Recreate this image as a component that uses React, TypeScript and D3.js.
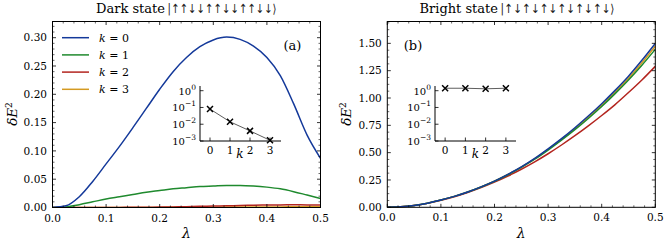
import React from "react";
import * as d3 from "d3";

// ---- data ----
const lambdaGrid = [0, 0.025, 0.05, 0.075, 0.1, 0.125, 0.15, 0.175, 0.2, 0.225, 0.25, 0.275, 0.3, 0.325, 0.35, 0.375, 0.4, 0.425, 0.45, 0.475, 0.5];
const seriesNames = ["k = 0", "k = 1", "k = 2", "k = 3"];
const seriesColors = ["#14399a", "#1f8a2e", "#b3251f", "#d49a22"];

const darkK0 = [0, 0.003, 0.019, 0.046, 0.077, 0.108, 0.141, 0.175, 0.209, 0.24, 0.265, 0.284, 0.296, 0.301, 0.297, 0.285, 0.265, 0.233, 0.183, 0.128, 0.087];
const darkK1 = [0, 0.001, 0.005, 0.01, 0.015, 0.019, 0.023, 0.027, 0.03, 0.033, 0.035, 0.037, 0.038, 0.039, 0.039, 0.038, 0.036, 0.033, 0.028, 0.022, 0.016];
const darkK2 = [0, 0, 0, 0, 0.0001, 0.0002, 0.0003, 0.0005, 0.0008, 0.0011, 0.0015, 0.002, 0.0025, 0.003, 0.0035, 0.004, 0.0044, 0.0046, 0.0047, 0.0046, 0.0043];
const darkK3 = [0, 0, 0, 0, 0, 0.0001, 0.0001, 0.0002, 0.0002, 0.0003, 0.0004, 0.0005, 0.0006, 0.0007, 0.0008, 0.0009, 0.001, 0.0011, 0.0012, 0.0012, 0.0012];

const brightK0 = [0, 0.004, 0.016, 0.037, 0.066, 0.1, 0.14, 0.187, 0.24, 0.302, 0.37, 0.447, 0.535, 0.628, 0.728, 0.835, 0.948, 1.07, 1.2, 1.345, 1.5];
const brightK1 = [0, 0.004, 0.016, 0.037, 0.066, 0.1, 0.14, 0.186, 0.238, 0.298, 0.365, 0.44, 0.524, 0.614, 0.71, 0.813, 0.922, 1.04, 1.165, 1.3, 1.445];
const brightK2 = [0, 0.004, 0.016, 0.036, 0.064, 0.097, 0.136, 0.18, 0.23, 0.286, 0.348, 0.416, 0.49, 0.57, 0.655, 0.745, 0.84, 0.94, 1.05, 1.165, 1.29];
const brightK3 = [0, 0.004, 0.016, 0.037, 0.066, 0.1, 0.14, 0.187, 0.239, 0.3, 0.368, 0.444, 0.53, 0.621, 0.72, 0.824, 0.935, 1.053, 1.18, 1.322, 1.475];

const insetK = [0, 1, 2, 3];
const insetDark = [0.08, 0.014, 0.004, 0.0011];
const insetBright = [1.4, 1.4, 1.3, 1.4];

const xTicks = [0, 0.1, 0.2, 0.3, 0.4, 0.5];
const yTicksA = [0, 0.05, 0.1, 0.15, 0.2, 0.25, 0.3];
const yTicksB = [0, 0.25, 0.5, 0.75, 1.0, 1.25, 1.5];
const insetYTicks = [1e-3, 1e-2, 1e-1, 1];
const insetYLabels = ["−3", "−2", "−1", "0"];

const FONT = "'DejaVu Serif', 'Liberation Serif', serif";
const ARROWFONT = "'DejaVu Sans', sans-serif";

type Scale = d3.ScaleLinear<number, number>;

function Frame({ x, y, xt, yt, xminor, yminor, yfmt }: { x: Scale; y: Scale; xt: number[]; yt: number[]; xminor: number[]; yminor: number[]; yfmt: (v: number) => string }) {
  const [x0, x1] = x.range();
  const [y0, y1] = y.range();
  const maj = 3.5, mn = 2;
  const els: React.ReactNode[] = [];
  xt.forEach((v, i) => {
    const px = x(v);
    els.push(<line key={"xt" + i} x1={px} x2={px} y1={y0} y2={y0 - maj} stroke="#000" strokeWidth={0.8} />);
    els.push(<line key={"xtt" + i} x1={px} x2={px} y1={y1} y2={y1 + maj} stroke="#000" strokeWidth={0.8} />);
    els.push(<text key={"xl" + i} x={px} y={y0 + 14} textAnchor="middle" fontSize={10.5} fontFamily={FONT}>{v.toFixed(1)}</text>);
  });
  xminor.forEach((v, i) => {
    const px = x(v);
    els.push(<line key={"xm" + i} x1={px} x2={px} y1={y0} y2={y0 - mn} stroke="#000" strokeWidth={0.6} />);
    els.push(<line key={"xmt" + i} x1={px} x2={px} y1={y1} y2={y1 + mn} stroke="#000" strokeWidth={0.6} />);
  });
  yt.forEach((v, i) => {
    const py = y(v);
    els.push(<line key={"yt" + i} x1={x0} x2={x0 + maj} y1={py} y2={py} stroke="#000" strokeWidth={0.8} />);
    els.push(<line key={"ytr" + i} x1={x1} x2={x1 - maj} y1={py} y2={py} stroke="#000" strokeWidth={0.8} />);
    els.push(<text key={"yl" + i} x={x0 - 5.5} y={py + 3.8} textAnchor="end" fontSize={10.5} fontFamily={FONT}>{yfmt(v)}</text>);
  });
  yminor.forEach((v, i) => {
    const py = y(v);
    els.push(<line key={"ym" + i} x1={x0} x2={x0 + mn} y1={py} y2={py} stroke="#000" strokeWidth={0.6} />);
    els.push(<line key={"ymr" + i} x1={x1} x2={x1 - mn} y1={py} y2={py} stroke="#000" strokeWidth={0.6} />);
  });
  return <g>{els}<rect x={x0} y={y1} width={x1 - x0} height={y0 - y1} fill="none" stroke="#000" strokeWidth={1} /></g>;
}

function Inset({ x, y, vals }: { x: Scale; y: d3.ScaleLogarithmic<number, number>; vals: number[] }) {
  const [x0, x1] = x.range();
  const [y0, y1] = y.range();
  const line = d3.line<number>().x((_, i) => x(insetK[i])).y((v) => y(v));
  return (
    <g>
      <path d={line(vals) || ""} fill="none" stroke="#333" strokeWidth={0.8} />
      {vals.map((v, i) => {
        const cx = x(insetK[i]), cy = y(v), s = 3;
        return <path key={i} d={`M${cx - s},${cy - s}L${cx + s},${cy + s}M${cx - s},${cy + s}L${cx + s},${cy - s}`} stroke="#000" strokeWidth={1.5} />;
      })}
      <line x1={x0} x2={x0} y1={y0} y2={y1} stroke="#000" strokeWidth={1} />
      <line x1={x0} x2={x1} y1={y0} y2={y0} stroke="#000" strokeWidth={1} />
      {insetK.map((k, i) => (
        <g key={"ik" + i}>
          <line x1={x(k)} x2={x(k)} y1={y0} y2={y0 - 3.5} stroke="#000" strokeWidth={0.8} />
          <text x={x(k)} y={y0 + 13} textAnchor="middle" fontSize={10.5} fontFamily={FONT}>{k}</text>
        </g>
      ))}
      {insetYTicks.map((t, i) => (
        <g key={"iy" + i}>
          <line x1={x0} x2={x0 + 3.5} y1={y(t)} y2={y(t)} stroke="#000" strokeWidth={0.8} />
          <text x={x0 - 4} y={y(t) + 4} textAnchor="end" fontSize={10} fontFamily={FONT}>
            10<tspan dy={-5} fontSize={7.5}>{insetYLabels[i]}</tspan>
          </text>
        </g>
      ))}
      <text x={(x(1) + x(2)) / 2} y={y0 + 17} textAnchor="middle" fontSize={12} fontStyle="italic" fontFamily={FONT}>k</text>
    </g>
  );
}

function Title({ labelEnd, ketStart, ketW, label, ket }: { labelEnd: number; ketStart: number; ketW: number; label: string; ket: string }) {
  return (
    <g>
      <text x={labelEnd} y={12.5} textAnchor="end" fontSize={13} fontFamily={FONT}>{label}</text>
      <text x={ketStart} y={12.5} fontSize={12.5} fill="#222" fontFamily={ARROWFONT} textLength={ketW} lengthAdjust="spacingAndGlyphs">{ket}</text>
    </g>
  );
}

export default function App() {
  const xA = d3.scaleLinear().domain([0, 0.5]).range([52.5, 320.5]);
  const yA = d3.scaleLinear().domain([0, 0.3286]).range([207.5, 21.5]);
  const xB = d3.scaleLinear().domain([0, 0.5]).range([387.3, 655.3]);
  const yB = d3.scaleLinear().domain([0, 1.7]).range([207.3, 21.5]);

  const ixA = d3.scaleLinear().domain([-0.5, 3.55]).range([200, 281]);
  const iyA = d3.scaleLog().domain([1e-3, Math.pow(10, 0.28)]).range([141, 86]);
  const ixB = d3.scaleLinear().domain([-0.5, 3.5]).range([435, 516]);
  const iyB = d3.scaleLog().domain([1e-3, Math.pow(10, 0.28)]).range([141, 86]);

  const xMinor = d3.range(0, 0.5001, 0.02).filter((v) => Math.abs(v * 10 - Math.round(v * 10)) > 1e-6);
  const yMinorA = d3.range(0, 0.3286, 0.01).filter((v) => Math.abs(v * 20 - Math.round(v * 20)) > 1e-6);
  const yMinorB = d3.range(0, 1.7, 0.0625).filter((v) => Math.abs(v * 4 - Math.round(v * 4)) > 1e-6);

  const dark = [darkK0, darkK1, darkK2, darkK3];
  const bright = [brightK0, brightK1, brightK2, brightK3];
  const lineA = d3.line<number>().x((_, i) => xA(lambdaGrid[i])).y((v) => yA(v)).curve(d3.curveMonotoneX);
  const lineB = d3.line<number>().x((_, i) => xB(lambdaGrid[i])).y((v) => yB(v)).curve(d3.curveMonotoneX);

  return (
    <svg width={664} height={241} style={{ position: "absolute", left: 0, top: 0, background: "#fff" }}>
      <defs>
        <clipPath id="cA"><rect x={52.5} y={21.5} width={268} height={186} /></clipPath>
        <clipPath id="cB"><rect x={387.3} y={21.5} width={268} height={186} /></clipPath>
      </defs>
      {/* Panel A */}
      <g clipPath="url(#cA)">
        {dark.slice().reverse().map((d, j) => {
          const i = 3 - j;
          return <path key={i} d={lineA(d) || ""} fill="none" stroke={seriesColors[i]} strokeWidth={1.5} />;
        })}
      </g>
      <Frame x={xA} y={yA} xt={xTicks} yt={yTicksA} xminor={xMinor} yminor={yMinorA} yfmt={(v) => v.toFixed(2)} />
      {seriesNames.map((n, i) => (
        <g key={"lg" + i}>
          <line x1={62} x2={89} y1={37.7 + i * 17.2} y2={37.7 + i * 17.2} stroke={seriesColors[i]} strokeWidth={1.5} />
          <text x={99} y={41.7 + i * 17.2} fontSize={11} fontFamily={FONT}>
            <tspan fontStyle="italic">k</tspan> = {i}
          </text>
        </g>
      ))}
      <text x={292.5} y={49.5} textAnchor="middle" fontSize={13} fontFamily={FONT}>(a)</text>
      <Inset x={ixA} y={iyA} vals={insetDark} />

      {/* Panel B */}
      <g clipPath="url(#cB)">
        {bright.slice().reverse().map((d, j) => {
          const i = 3 - j;
          return <path key={i} d={lineB(d) || ""} fill="none" stroke={seriesColors[i]} strokeWidth={1.5} />;
        })}
      </g>
      <Frame x={xB} y={yB} xt={xTicks} yt={yTicksB} xminor={xMinor} yminor={yMinorB} yfmt={(v) => v.toFixed(2)} />
      <text x={413} y={49.5} textAnchor="middle" fontSize={13} fontFamily={FONT}>(b)</text>
      <Inset x={ixB} y={iyB} vals={insetBright} />

      {/* Titles */}
      <Title labelEnd={165} ketStart={167.5} ketW={109} label="Dark state" ket="|↑↑↓↓↑↑↓↓↑↑↓↓⟩" />
      <Title labelEnd={498} ketStart={500.5} ketW={114} label="Bright state" ket="|↑↓↑↓↑↓↑↓↑↓↑↓⟩" />

      {/* axis labels */}
      <text x={186.5} y={238} textAnchor="middle" fontSize={14} fontStyle="italic" fontFamily={FONT}>λ</text>
      <text x={521.3} y={238} textAnchor="middle" fontSize={14} fontStyle="italic" fontFamily={FONT}>λ</text>
      <text transform="translate(17,114) rotate(-90)" textAnchor="middle" fontSize={13.5} fontFamily={FONT}>
        <tspan fontStyle="italic">δE</tspan><tspan dy={-5} fontSize={9}>2</tspan>
      </text>
      <text transform="translate(351,114) rotate(-90)" textAnchor="middle" fontSize={13.5} fontFamily={FONT}>
        <tspan fontStyle="italic">δE</tspan><tspan dy={-5} fontSize={9}>2</tspan>
      </text>
    </svg>
  );
}
